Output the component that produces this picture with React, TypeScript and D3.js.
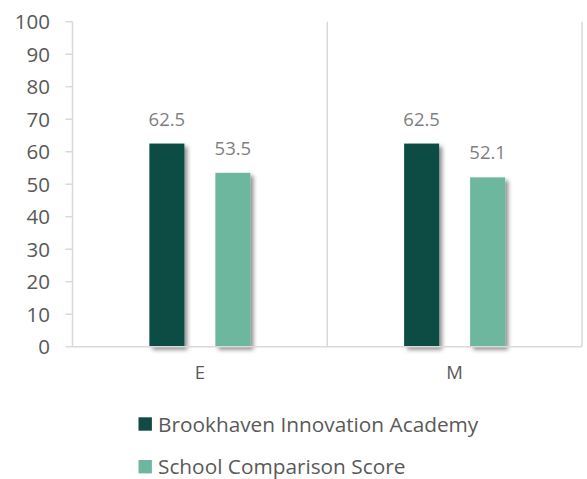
import React from "react";
import * as d3 from "d3";

const categories = ["E", "M"];
const seriesNames = ["Brookhaven Innovation Academy", "School Comparison Score"];
const brookhavenValues = [62.5, 62.5];
const comparisonValues = [53.5, 52.1];
const yTicks = [0, 10, 20, 30, 40, 50, 60, 70, 80, 90, 100];
const colors = ["#104b45", "#6eb79f"];

const W = 587;
const H = 479;
const left = 72.5;
const right = 582;
const top = 21.7;
const bottom = 346.7;
const FONT = "'Open Sans', sans-serif";

export default function App() {
  const x = d3.scaleBand<string>().domain(categories).range([left, right]).padding(0);
  const y = d3.scaleLinear().domain([0, 100]).range([bottom, top]);
  const series = [brookhavenValues, comparisonValues];
  const barW = 35;
  const offsets = [-33, 33];

  return (
    <svg width={W} height={H} style={{ position: "absolute", left: 0, top: 0, background: "#fff" }}>
      <defs>
        <filter id="shadow" x="-50%" y="-20%" width="200%" height="140%">
          <feDropShadow dx="3" dy="3" stdDeviation="2" floodColor="#000" floodOpacity="0.45" />
        </filter>
      </defs>
      <rect x={0} y={0} width={W} height={H} fill="#fff" />
      {/* vertical category gridlines */}
      {[left, ...categories.map((c) => (x(c) as number) + x.bandwidth())].map((gx, i) => (
        <line key={"g" + i} x1={gx} x2={gx} y1={top} y2={bottom} stroke="#d9d9d9" strokeWidth={1.5} />
      ))}
      {/* y ticks */}
      {yTicks.map((t) => (
        <g key={"t" + t}>
          <line x1={left - 7} x2={left} y1={y(t)} y2={y(t)} stroke="#d9d9d9" strokeWidth={1.5} />
          <text x={50} y={y(t)} dy="0.36em" textAnchor="end" fontFamily={FONT} fontSize={20.5} fill="#595959">
            {t}
          </text>
        </g>
      ))}
      {/* bars */}
      {categories.map((c, ci) => {
        const cx = (x(c) as number) + x.bandwidth() / 2;
        return (
          <g key={c}>
            {series.map((vals, si) => {
              const bx = cx + offsets[si] - barW / 2;
              return (
                <g key={si}>
                  <rect
                    x={bx}
                    y={y(vals[ci])}
                    width={barW}
                    height={bottom - y(vals[ci])}
                    fill={colors[si]}
                    filter="url(#shadow)"
                  />
                  <text
                    x={bx + barW / 2}
                    y={y(vals[ci]) - 18}
                    textAnchor="middle"
                    fontFamily={FONT}
                    fontSize={18.5}
                    fill="#7f7f7f"
                  >
                    {vals[ci]}
                  </text>
                </g>
              );
            })}
            <text x={cx} y={379} textAnchor="middle" fontFamily={FONT} fontSize={18.5} fill="#595959">
              {c}
            </text>
          </g>
        );
      })}
      {/* baseline */}
      <line x1={left} x2={right} y1={bottom} y2={bottom} stroke="#d9d9d9" strokeWidth={1.5} />
      {/* legend */}
      {seriesNames.map((n, i) => (
        <g key={n} transform={`translate(138.5, ${417.3 + i * 42.7})`}>
          <rect x={0} y={0} width={13.4} height={13.4} fill={colors[i]} />
          <text x={19.5} y={6.7} dy="0.36em" fontFamily={FONT} fontSize={20.8} fill="#595959">
            {n}
          </text>
        </g>
      ))}
    </svg>
  );
}
